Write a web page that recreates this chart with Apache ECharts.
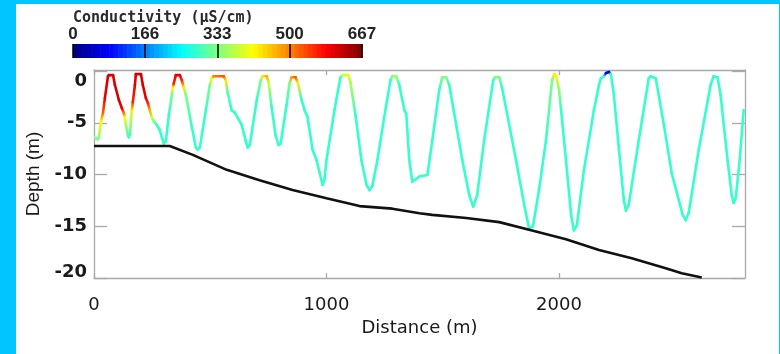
<!DOCTYPE html>
<html><head><meta charset="utf-8">
<script src="https://cdn.jsdelivr.net/npm/echarts@6/dist/echarts.min.js"></script>
<style>
html,body{margin:0;padding:0;width:780px;height:354px;background:#00c6ff;overflow:hidden}
#c{position:absolute;left:16px;top:4px;width:763px;height:350px;background:#fff}
</style></head><body><div id="c"></div>
<script>
// Towed profile: distance (m), depth (m), conductivity (uS/cm)
const distance = [0,17,21,30,39,47,60,64,82,90,107,120,129,133,137,146,150,155,159,163,167,176,180,202,210,223,232,240,249,258,270,283,292,300,309,322,335,339,343,352,369,378,386,395,421,438,446,455,481,498,506,515,558,567,575,592,605,635,652,661,670,700,717,725,743,751,764,781,794,803,828,841,850,867,876,893,906,918,940,957,970,983,991,1000,1034,1060,1069,1094,1103,1125,1150,1172,1185,1197,1219,1253,1275,1283,1300,1313,1335,1343,1356,1369,1399,1434,1455,1485,1498,1515,1528,1584,1614,1631,1648,1678,1717,1725,1743,1755,1815,1850,1871,1888,1914,1944,1970,1979,1987,2000,2009,2030,2052,2064,2077,2107,2150,2172,2180,2193,2202,2215,2223,2236,2258,2279,2288,2300,2343,2386,2395,2416,2451,2485,2498,2532,2545,2558,2601,2652,2665,2682,2695,2725,2743,2751,2760,2777,2794];
const depth = [-6.4,-6.6,-6.4,-4.9,-4.0,-2.6,-0.5,-0.4,-0.4,-1.35,-2.8,-3.6,-4.1,-4.5,-5.2,-6.2,-6.4,-6.1,-4.7,-3.8,-3.0,-1.35,-0.3,-0.3,-1.35,-2.6,-3.1,-3.8,-4.5,-4.9,-5.2,-5.7,-6.4,-7.0,-6.8,-4.25,-2.3,-1.6,-1.2,-0.4,-0.4,-0.9,-1.6,-2.3,-5.4,-7.4,-7.6,-7.4,-3.8,-1.35,-0.7,-0.5,-0.5,-0.9,-2.1,-3.8,-4.0,-5.2,-6.7,-7.4,-7.15,-2.8,-0.9,-0.5,-0.5,-1.1,-3.5,-6.2,-7.15,-7.0,-3.3,-1.2,-0.6,-0.6,-1.1,-2.8,-3.8,-4.4,-7.6,-8.6,-9.8,-11.0,-10.5,-8.6,-3.8,-0.6,-0.4,-0.4,-1.1,-4.3,-8.6,-11.0,-11.5,-11.1,-8.6,-3.8,-0.9,-0.5,-0.5,-1.35,-3.8,-4.1,-8.6,-10.7,-10.2,-10.05,-6.7,-1.8,-0.6,-0.6,-1.35,-8.6,-12.0,-13.1,-12.0,-6.7,-0.9,-0.6,-0.6,-1.6,-8.6,-12.9,-15.2,-15.0,-11.5,-6.7,-0.9,-0.3,-0.4,-1.8,-3.8,-8.6,-13.9,-15.4,-14.9,-9.6,-3.8,-1.35,-0.7,-0.5,-0.2,-0.1,-0.3,-2.3,-7.6,-12.5,-13.5,-12.9,-6.7,-0.7,-0.5,-0.7,-5.2,-9.9,-11.0,-13.9,-14.4,-13.7,-7.6,-1.35,-0.5,-0.6,-2.3,-8.6,-12.0,-12.75,-12.3,-8.6,-3.8];
const conductivity = [340,330,340,420,520,600,610,610,610,610,610,590,500,420,360,300,290,300,360,430,560,600,610,610,610,600,560,470,380,320,290,285,285,285,285,285,320,420,560,600,600,560,430,330,285,285,285,285,285,330,420,500,530,430,300,285,285,285,285,285,285,285,330,430,470,380,285,285,285,285,285,330,480,530,430,285,285,285,285,285,285,285,285,285,285,285,380,400,360,285,285,285,285,285,285,285,285,340,350,285,285,285,285,285,285,285,285,285,330,340,285,285,285,285,285,285,285,330,330,285,285,285,285,285,285,285,330,430,420,340,285,285,285,285,285,285,285,285,285,285,80,30,285,285,285,285,285,285,285,285,285,285,285,285,285,285,285,285,285,285,285,285,285,285,285,285,285,285,285,285];
// Sea floor
const bottomDistance = [0,326,425,571,712,854,1000,1142,1283,1400,1455,1601,1743,1884,2030,2172,2313,2459,2528,2614];
const bottomDepth = [-7.25,-7.25,-8.1,-9.55,-10.55,-11.5,-12.3,-13.05,-13.3,-13.75,-13.9,-14.2,-14.6,-15.4,-16.25,-17.3,-18.1,-19.05,-19.55,-19.95];
// Ticks
const depthTicks = [-20,-15,-10,-5,0];
const distanceTicks = [0,1000,2000];
const colorbarTicks = [0,166,333,500,667];
const cMin = 0, cMax = 667;

function clamp(v){return Math.max(0,Math.min(1,v));}
function jet(t){
  t = clamp(t);
  const r = clamp(Math.min(4*t-1.5,-4*t+4.5));
  const g = clamp(Math.min(4*t-0.5,-4*t+3.5));
  const b = clamp(Math.min(4*t+0.5,-4*t+2.5));
  return 'rgb('+Math.round(r*255)+','+Math.round(g*255)+','+Math.round(b*255)+')';
}
const segs = [];
for (let i=0;i<distance.length-1;i++){
  segs.push([distance[i],depth[i],distance[i+1],depth[i+1],conductivity[i],conductivity[i+1]]);
}
const nBins = 64;
const bins = [];
for (let k=0;k<nBins;k++){ bins.push([cMin+k*(cMax-cMin)/nBins, cMin+(k+1)*(cMax-cMin)/nBins]); }
const bottomData = bottomDistance.map((d,i)=>[d,bottomDepth[i]]);

const axisGray = '#a9a9a9';
const txt = '#1a1a1a';
const chart = echarts.init(document.getElementById('c'));
chart.setOption({
  animation:false,
  backgroundColor:'#fff',
  title:{text:'Conductivity (\u03bcS/cm)', left:57, top:7, padding:0,
    textStyle:{fontFamily:'DejaVu Sans Mono', fontSize:15, fontWeight:'bold', color:'#2a2a2a'}},
  grid:[
    {left:78, top:66, width:651, height:208},
    {left:57, top:40, width:289, height:14}
  ],
  xAxis:[
    {gridIndex:0, type:'value', min:0, max:2800, interval:1000, position:'bottom',
     axisLine:{show:true,onZero:false,lineStyle:{color:axisGray,width:1.3}},
     axisTick:{show:true,inside:true,length:5,customValues:distanceTicks,lineStyle:{color:axisGray,width:1.3}},
     axisLabel:{customValues:distanceTicks,margin:18,color:txt,fontFamily:'DejaVu Sans',fontSize:18,
       formatter:function(v){return String(v);}},
     splitLine:{show:false},
     name:'Distance (m)', nameLocation:'middle', nameGap:41,
     nameTextStyle:{fontFamily:'DejaVu Sans',fontSize:18,color:txt}},
    {gridIndex:0, type:'value', min:0, max:2800, interval:1000, position:'top',
     axisLine:{show:true,onZero:false,lineStyle:{color:axisGray,width:1.3}},
     axisTick:{show:true,inside:true,length:5,customValues:distanceTicks,lineStyle:{color:axisGray,width:1.3}},
     axisLabel:{show:false}, splitLine:{show:false}},
    {gridIndex:1, type:'value', min:cMin, max:cMax, position:'top', z:5,
     axisLine:{show:false,onZero:false},
     axisTick:{show:true,inside:true,length:14,customValues:colorbarTicks,lineStyle:{color:'#000',width:1.5}},
     axisLabel:{customValues:colorbarTicks,margin:1,color:'#222',fontFamily:'Liberation Sans',fontWeight:'bold',fontSize:17},
     splitLine:{show:false}}
  ],
  yAxis:[
    {gridIndex:0, type:'value', min:-20, max:0.1, interval:5, position:'left',
     axisLine:{show:true,onZero:false,lineStyle:{color:axisGray,width:1.3}},
     axisTick:{show:true,inside:true,length:13,customValues:depthTicks,lineStyle:{color:axisGray,width:1.3}},
     axisLabel:{customValues:depthTicks,margin:7,color:txt,fontFamily:'DejaVu Sans',fontWeight:'bold',fontSize:18,
       formatter:function(v){ if(v===0) return '{t|0}'; if(v===-20) return '{b|-20}'; return String(v); },
       rich:{t:{padding:[20,0,0,0],fontFamily:'DejaVu Sans',fontWeight:'bold',fontSize:18,color:txt},
             b:{padding:[0,0,11,0],fontFamily:'DejaVu Sans',fontWeight:'bold',fontSize:18,color:txt}}},
     splitLine:{show:false},
     name:'Depth (m)', nameLocation:'middle', nameGap:50,
     nameTextStyle:{fontFamily:'Liberation Sans',fontSize:19,color:txt}},
    {gridIndex:0, type:'value', min:-20, max:0.1, interval:5, position:'right',
     axisLine:{show:true,onZero:false,lineStyle:{color:axisGray,width:1.3}},
     axisTick:{show:true,inside:true,length:13,customValues:depthTicks,lineStyle:{color:axisGray,width:1.3}},
     axisLabel:{show:false}, splitLine:{show:false}},
    {gridIndex:1, type:'value', min:0, max:1, show:false, axisLine:{onZero:false}}
  ],
  series:[
    {type:'custom', xAxisIndex:2, yAxisIndex:2, data:bins, encode:{x:[0,1]}, silent:true, z:1,
     renderItem:function(params, api){
       const lo = api.value(0), hi = api.value(1);
       const p1 = api.coord([lo,1]), p2 = api.coord([hi,0]);
       return {type:'rect', shape:{x:p1[0], y:p1[1], width:p2[0]-p1[0]+0.6, height:p2[1]-p1[1]},
               style:{fill:jet(((lo+hi)/2-cMin)/(cMax-cMin))}};
     }},
    {type:'custom', xAxisIndex:0, yAxisIndex:0, data:segs, encode:{x:[0,2], y:[1,3]}, silent:true, clip:true,
     renderItem:function(params, api){
       const p1 = api.coord([api.value(0), api.value(1)]);
       const p2 = api.coord([api.value(2), api.value(3)]);
       const c1 = jet((api.value(4)-cMin)/(cMax-cMin)), c2 = jet((api.value(5)-cMin)/(cMax-cMin));
       return {type:'line', shape:{x1:p1[0],y1:p1[1],x2:p2[0],y2:p2[1]},
         style:{stroke:{type:'linear',x:p1[0],y:p1[1],x2:p2[0],y2:p2[1],global:true,
                colorStops:[{offset:0,color:c1},{offset:1,color:c2}]}, lineWidth:2.6, lineCap:'round', lineJoin:'round'}};
     }},
    {type:'line', xAxisIndex:0, yAxisIndex:0, data:bottomData, symbol:'none', silent:true,
     lineStyle:{color:'#111', width:2.6}, z:3}
  ]
});
</script></body></html>
